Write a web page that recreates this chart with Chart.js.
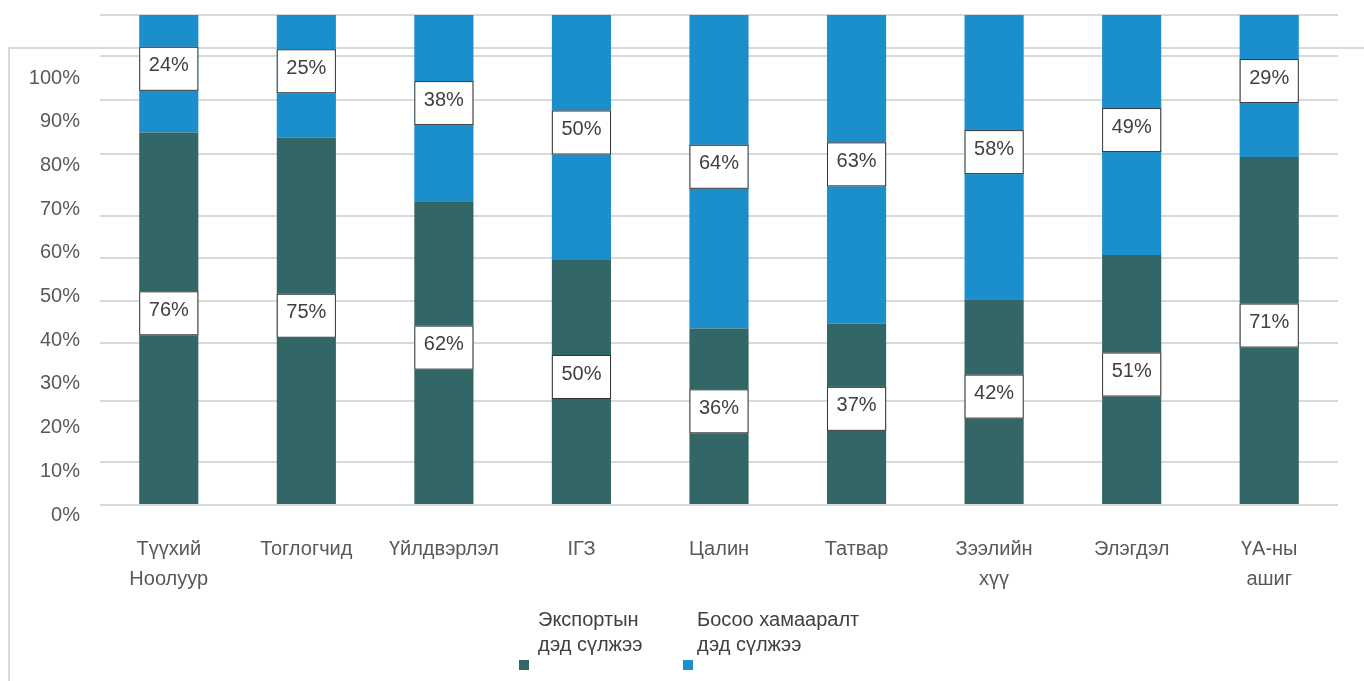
<!DOCTYPE html>
<html>
<head>
<meta charset="utf-8">
<script src="https://cdn.jsdelivr.net/npm/chart.js@4/dist/chart.umd.min.js"></script>
<style>
  html, body { margin: 0; padding: 0; background: #fff; }
  #wrap { position: relative; width: 1364px; height: 681px; }
  #frame { position: absolute; left: 8px; top: 47px; right: 0; bottom: 0;
           border-left: 2px solid #d9d9d9; border-top: 2px solid #d9d9d9; }
  #chart { position: absolute; left: 0; top: 0; }
</style>
</head>
<body>
<div id="wrap">
  <div id="frame"></div>
  <canvas id="chart" width="1364" height="681"></canvas>
</div>
<script>
// categories along the x axis
let categories = [['Түүхий', 'Ноолуур'], 'Тоглогчид', 'Үйлдвэрлэл', 'ІГЗ', 'Цалин', 'Татвар',
    ['Зээлийн', 'хүү'], 'Элэгдэл', ['ҮА-ны', 'ашиг']];

// shares in %
let exportShare = [76, 75, 62, 50, 36, 37, 42, 51, 71];
let verticalShare = [24, 25, 38, 50, 64, 63, 58, 49, 29];

let seriesNames = [['Экспортын', 'дэд сүлжээ'], ['Босоо хамааралт', 'дэд сүлжээ']];

// y labels on the left and the (uneven) gridlines of the picture
let yTickValues = [0, 10, 20, 30, 40, 50, 60, 70, 80, 90, 100];
let gridValues = [0, 8.8, 21.2, 33.1, 41.6, 50.4, 59, 71.6, 82.7, 91.6, 100];

const FONT = 'Liberation Sans, Arial, sans-serif';

const boxLabels = {
    id: 'boxLabels',
    afterDatasetsDraw(chart) {
        const ctx = chart.ctx;
        ctx.save();
        ctx.font = '20px ' + FONT;
        ctx.textAlign = 'center';
        ctx.textBaseline = 'middle';
        chart.data.datasets.forEach((ds, i) => {
            chart.getDatasetMeta(i).data.forEach((bar, j) => {
                let w = bar.width, h = 44;
                let cy = (bar.y + bar.base) / 2 - 5;
                let x0 = bar.x - w / 2, y0 = cy - h / 2;
                ctx.fillStyle = '#fff';
                ctx.fillRect(x0, y0, w, h);
                ctx.strokeStyle = '#333';
                ctx.lineWidth = 1;
                ctx.strokeRect(x0 + 0.5, y0 + 0.5, w - 1, h - 1);
                ctx.fillStyle = '#404040';
                ctx.fillText(ds.data[j] + '%', bar.x, cy - 3);
            });
        });
        ctx.restore();
    }
};

const bottomLegend = {
    id: 'bottomLegend',
    afterDraw(chart) {
        const ctx = chart.ctx;
        const spots = [{ sq: 519, tx: 538 }, { sq: 683, tx: 697 }];
        ctx.save();
        ctx.font = '20px ' + FONT;
        ctx.textAlign = 'left';
        ctx.textBaseline = 'middle';
        chart.data.datasets.forEach((ds, i) => {
            ctx.fillStyle = ds.backgroundColor;
            ctx.fillRect(spots[i].sq, 660, 10, 10);
            ctx.fillStyle = '#404040';
            seriesNames[i].forEach((line, k) => ctx.fillText(line, spots[i].tx, 620 + k * 25));
        });
        ctx.restore();
    }
};

let noPad = s => { s.paddingTop = 0; s.paddingBottom = 0; };

let ctx = document.getElementById('chart').getContext('2d');

let shareChart = new Chart(ctx, {
    type: 'bar',
    data: {
        labels: categories,
        datasets: [{
            label: seriesNames[0].join(' '),
            data: exportShare,
            yAxisID: 'y',
            backgroundColor: '#336666',
            categoryPercentage: 0.43,
            barPercentage: 1
        }, {
            label: seriesNames[1].join(' '),
            data: verticalShare,
            yAxisID: 'y',
            backgroundColor: '#1a8fcb',
            categoryPercentage: 0.43,
            barPercentage: 1
        }]
    },
    options: {
        responsive: false,
        animation: false,
        layout: { padding: { top: 15, right: 26, left: 0, bottom: 0 } },
        plugins: {
            legend: { display: false },
            tooltip: { enabled: false }
        },
        scales: {
            x: {
                stacked: true,
                grid: { display: false },
                border: { display: false },
                ticks: {
                    padding: 6,
                    color: '#595959',
                    font: { family: FONT, size: 20, lineHeight: 1.5 },
                    maxRotation: 0,
                    autoSkip: false
                },
                afterFit: s => { s.height = 161; }
            },
            yLabels: {
                position: 'left',
                min: -1.144,
                max: 114.42,
                grid: { display: false },
                border: { display: false },
                afterBuildTicks: s => { s.ticks = yTickValues.map(v => ({ value: v })); },
                ticks: {
                    padding: 12,
                    color: '#595959',
                    font: { family: FONT, size: 20 },
                    callback: v => v + '%'
                },
                afterFit: s => { s.width = 100; noPad(s); }
            },
            y: {
                stacked: true,
                position: 'left',
                min: -3.06,
                max: 100,
                border: { display: false },
                grid: { color: '#d9d9d9', lineWidth: 2, drawTicks: false },
                afterBuildTicks: s => { s.ticks = gridValues.map(v => ({ value: v })); },
                ticks: { display: false },
                afterFit: s => { s.width = 0; noPad(s); }
            }
        }
    },
    plugins: [boxLabels, bottomLegend]
});
</script>
</body>
</html>
